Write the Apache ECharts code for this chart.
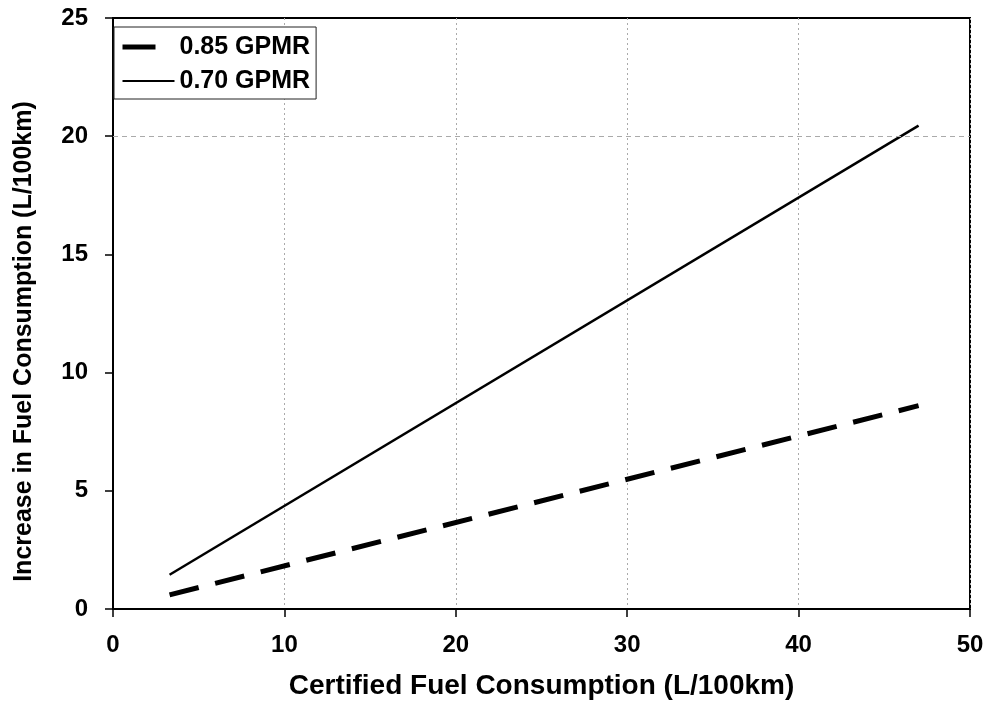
<!DOCTYPE html>
<html><head><meta charset="utf-8">
<script src="https://cdn.jsdelivr.net/npm/echarts@6/dist/echarts.min.js"></script>
<style>html,body{margin:0;padding:0;background:#fff}#c{width:990px;height:705px}</style>
</head><body><div id="c"></div>
<script>
const seriesNames = ['0.85 GPMR', '0.70 GPMR'];
const gpmr085 = [[3.3, 0.6], [47.0, 8.6]];
const gpmr070 = [[3.3, 1.45], [47.0, 20.45]];
const xTicks = [0, 10, 20, 30, 40, 50];
const yTicks = [0, 5, 10, 15, 20, 25];
const yGridRef = [20];

const FONT = '"Liberation Sans", Arial, sans-serif';
const chart = echarts.init(document.getElementById('c'));
chart.setOption({
  animation: false,
  backgroundColor: '#fff',
  grid: { left: 113, right: 20, top: 18, bottom: 95, show: true, borderColor: '#000', borderWidth: 2, backgroundColor: 'transparent' },
  legend: {
    orient: 'vertical', left: 114, top: 27,
    backgroundColor: '#fff', borderColor: '#222', borderWidth: 1,
    padding: [7, 6, 5, 6], itemGap: 8, itemWidth: 52, itemHeight: 26,
    textStyle: { fontFamily: FONT, fontWeight: 'bold', fontSize: 25, color: '#000', lineHeight: 26 },
    data: [
      { name: seriesNames[0], itemStyle: { opacity: 0 }, lineStyle: { type: [33, 40], width: 5 } },
      { name: seriesNames[1], itemStyle: { opacity: 0 } }
    ]
  },
  xAxis: {
    type: 'value', min: xTicks[0], max: xTicks[xTicks.length - 1], interval: 10,
    name: 'Certified Fuel Consumption (L/100km)', nameLocation: 'middle', nameGap: 63,
    nameTextStyle: { fontFamily: FONT, fontWeight: 'bold', fontSize: 28, color: '#000' },
    axisLine: { lineStyle: { color: '#000', width: 2 } },
    axisTick: { show: true, length: 8, lineStyle: { color: '#000', width: 1.5 } },
    axisLabel: { fontFamily: FONT, fontWeight: 'bold', fontSize: 24, color: '#000', margin: 24 },
    splitLine: { show: true, lineStyle: { color: '#aaa', type: [2, 3], width: 1 } }
  },
  yAxis: {
    type: 'value', min: yTicks[0], max: yTicks[yTicks.length - 1], interval: 5,
    name: 'Increase in Fuel Consumption (L/100km)', nameLocation: 'middle', nameGap: 76,
    nameTextStyle: { fontFamily: FONT, fontWeight: 'bold', fontSize: 25, color: '#000', padding: [0, 56, 0, 0] },
    axisLine: { show: true, lineStyle: { color: '#000', width: 2 } },
    axisTick: { show: true, length: 8, lineStyle: { color: '#000', width: 1.5 } },
    axisLabel: { fontFamily: FONT, fontWeight: 'bold', fontSize: 24, color: '#000', margin: 25 },
    splitLine: { show: false }
  },
  series: [
    {
      name: seriesNames[0], type: 'line', data: gpmr085, symbol: 'none', z: 3,
      lineStyle: { color: '#000', width: 5, type: [30, 17] }, itemStyle: { color: '#000' }
    },
    {
      name: seriesNames[1], type: 'line', data: gpmr070, symbol: 'none', z: 3,
      lineStyle: { color: '#000', width: 2.5 }, itemStyle: { color: '#000' },
      markLine: {
        silent: true, symbol: 'none', label: { show: false },
        lineStyle: { color: '#aaa', type: [5, 4], width: 1 },
        data: yGridRef.map(v => ({ yAxis: v }))
      }
    }
  ]
});
</script></body></html>
